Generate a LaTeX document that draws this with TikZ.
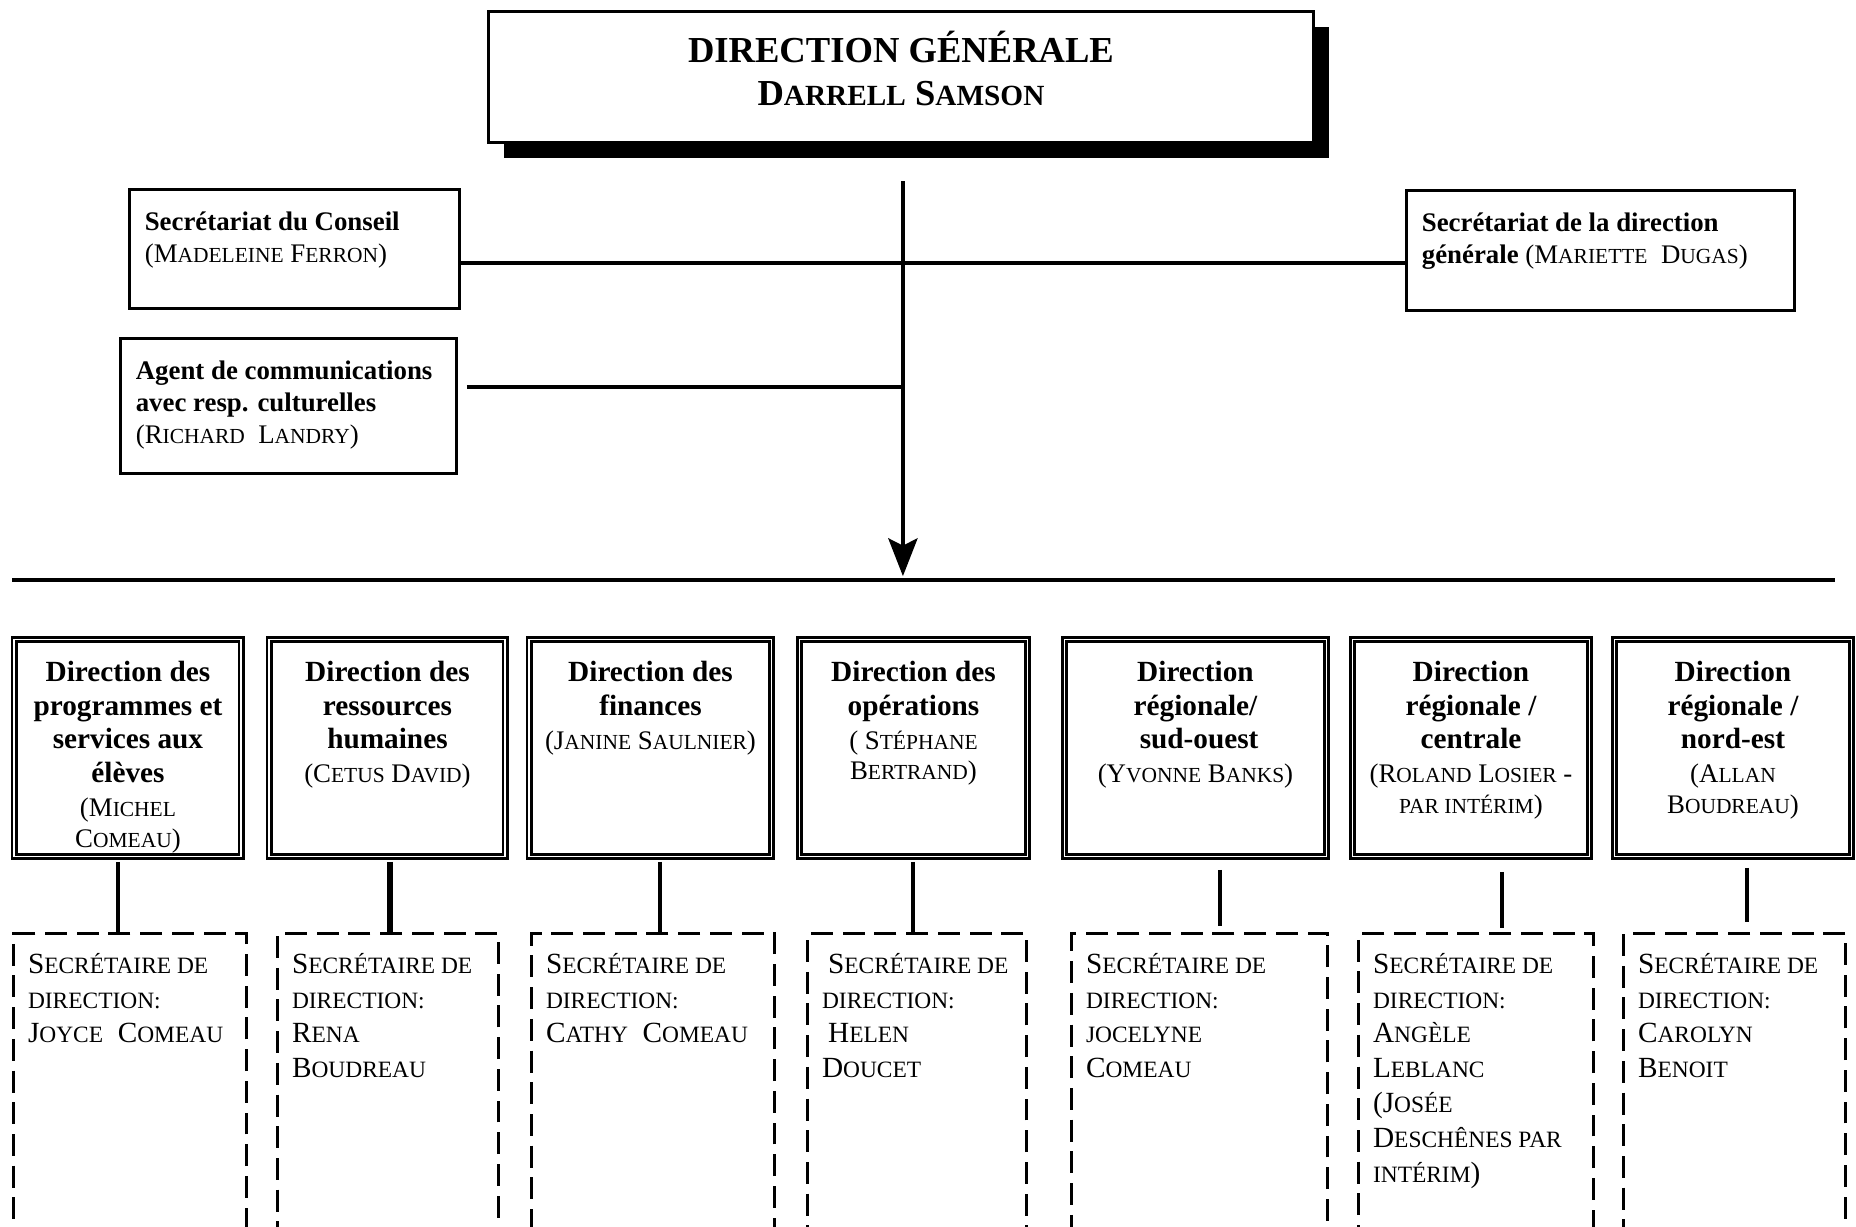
\documentclass[tikz,border=0pt,12pt]{standalone}
\usepackage{fontspec}
\setmainfont{Liberation Serif}
\usetikzlibrary{arrows.meta,shadows}
\makeatletter
\newcommand\lc[1]{{\fontsize{\strip@pt\dimexpr\f@size pt*4/5\relax}{\f@baselineskip}\selectfont #1}}
\makeatother
\def\staffbox(#1,#2,#3,#4,#5,#6){
  \node[staffbox] (#1) at (#2,#3) {\parbox[t][\dimexpr0.41pt*#5\relax][t]{\dimexpr0.41pt*#4-12.6pt\relax}{\raggedright\rule{0pt}{17pt}#6}};
}
\def\headbox(#1,#2,#3,#4,#5){
  \node[headbox] (#1) at (#2,638) {\parbox[t][\dimexpr0.41pt*217\relax][t]{\dimexpr0.41pt*#3\relax}{\centering
    {\bfseries\rule{0pt}{17.2pt}#4\par}\vspace{1.4pt}\fontsize{11}{12.6}\selectfont #5\par}};
}
\def\secbox(#1,#2,#3,#4){
  \node[secbox] (#1) at (#2,932) {\parbox[t][\dimexpr0.41pt*380\relax][t]{\dimexpr0.41pt*#3-11.8pt\relax}{\raggedright\rule{0pt}{16.2pt}#4}};
}
\begin{document}
\begin{tikzpicture}[x=0.41pt, y=-0.41pt,
  dgbox/.style={draw, line width=1.2pt, fill=white, inner sep=0pt, align=center,
    font=\fontsize{15}{17.8}\selectfont\bfseries,
    drop shadow={shadow xshift=6.2pt, shadow yshift=-6.2pt, fill=black, opacity=1}},
  staffbox/.style={draw, line width=1.2pt, inner xsep=6.3pt, inner ysep=0pt, anchor=north west,
    font=\fontsize{11}{13}\selectfont},
  headbox/.style={draw, line width=1.2pt, double, double distance=0.8pt, inner sep=0pt,
    anchor=north west, font=\fontsize{12}{13.8}\selectfont},
  secbox/.style={draw, line width=1.35pt, dash pattern=on 9pt off 4pt, inner xsep=5.9pt,
    inner ysep=0pt, anchor=north west, font=\fontsize{12}{14.3}\selectfont},
  link/.style={line width=1.4pt}]
\useasboundingbox (0,0) rectangle (1856,1226);
\clip (0,0) rectangle (1856,1226);

\node[dgbox, anchor=north west, minimum width=825*0.41pt, minimum height=131*0.41pt] (dg) at (487,10)
  {DIRECTION GÉNÉRALE\\D\lc{ARRELL} S\lc{AMSON}\rule[-7pt]{0pt}{0pt}};

\staffbox(conseil,128,188,330,119,{\textbf{Secrétariat du Conseil}\\(M\lc{ADELEINE} F\lc{ERRON})})
\staffbox(agent,119,337,336,135,{\textbf{Agent de communications}\\\textbf{avec resp. culturelles}\\(R\lc{ICHARD}\ \ L\lc{ANDRY})})
\staffbox(dgsec,1405,189,388,120,{\textbf{Secrétariat de la direction}\\\textbf{générale} (M\lc{ARIETTE}\ \ D\lc{UGAS})})

\coordinate (trunk) at ([xshift=0.8pt]dg.south);
\coordinate (busL) at (12,580);
\coordinate (busR) at (1835,580);
\coordinate (cl) at (0,263);
\coordinate (al) at (0,387);

\draw[link] (conseil.east |- cl) -- (dgsec.west |- cl);
\draw[link, shorten <=3.7pt] (agent.east |- al) -- (trunk |- al);
\draw[line width=1.5pt, shorten <=15.2pt, shorten >=1.6pt, -{Stealth[length=15.5pt, width=12pt, inset=3pt]}] (trunk) -- (trunk |- busL);
\draw[line width=1.6pt] (busL) -- (busR);

\headbox(p1,13,227,{Direction des\\programmes et\\services aux\\élèves},{(M\lc{ICHEL}\\C\lc{OMEAU})})
\headbox(p2,268,236,{Direction des\\ressources\\humaines},{(C\lc{ETUS} D\lc{AVID})})
\headbox(p3,528,242,{Direction des\\finances},{(J\lc{ANINE} S\lc{AULNIER})})
\headbox(p4,798,228,{Direction des\\opérations},{( S\lc{TÉPHANE}\\B\lc{ERTRAND})})
\headbox(p5,1063,262,{Direction\\régionale/\\\ sud-ouest},{(Y\lc{VONNE} B\lc{ANKS})})
\headbox(p6,1351,237,{Direction\\régionale /\\centrale},{(R\lc{OLAND} L\lc{OSIER} -\\\lc{PAR INTÉRIM})})
\headbox(p7,1613,237,{Direction\\régionale /\\nord-est},{(A\lc{LLAN}\\B\lc{OUDREAU})})

\secbox(s1,12,233,{S\lc{ECRÉTAIRE DE}\\\lc{DIRECTION:}\\J\lc{OYCE}\ \ C\lc{OMEAU}})
\secbox(s2,276,221,{S\lc{ECRÉTAIRE DE}\\\lc{DIRECTION:}\\R\lc{ENA}\\B\lc{OUDREAU}})
\secbox(s3,530,243,{S\lc{ECRÉTAIRE DE}\\\lc{DIRECTION:}\\C\lc{ATHY}\ \ C\lc{OMEAU}})
\secbox(s4,806,219,{\hspace*{2.5pt}S\lc{ECRÉTAIRE DE}\\\lc{DIRECTION:}\\\hspace*{2.5pt}H\lc{ELEN}\\D\lc{OUCET}})
\secbox(s5,1070,256,{S\lc{ECRÉTAIRE DE}\\\lc{DIRECTION:}\\\lc{JOCELYNE}\\C\lc{OMEAU}})
\secbox(s6,1357,235,{S\lc{ECRÉTAIRE DE}\\\lc{DIRECTION:}\\A\lc{NGÈLE}\\L\lc{EBLANC}\\(J\lc{OSÉE}\\D\lc{ESCHÊNES PAR}\\\lc{INTÉRIM})})
\secbox(s7,1622,222,{S\lc{ECRÉTAIRE DE}\\\lc{DIRECTION:}\\C\lc{AROLYN}\\B\lc{ENOIT}})

\draw[link, shorten <=1.6pt] (118,0 |- p1.south) -- (118,0 |- s1.north);
\draw[link, line width=2.4pt, shorten <=1.6pt] (390,0 |- p2.south) -- (390,0 |- s2.north);
\draw[link, shorten <=1.6pt] (660,0 |- p3.south) -- (660,0 |- s3.north);
\draw[link, shorten <=1.6pt] (913,0 |- p4.south) -- (913,0 |- s4.north);
\draw[link, shorten <=4.9pt, shorten >=2.3pt] (1220,0 |- p5.south) -- (1220,0 |- s5.north);
\draw[link, shorten <=5.7pt, shorten >=1.8pt] (1502,0 |- p6.south) -- (1502,0 |- s6.north);
\draw[link, shorten <=4.1pt, shorten >=4.3pt] (1747,0 |- p7.south) -- (1747,0 |- s7.north);
\end{tikzpicture}
\end{document}
